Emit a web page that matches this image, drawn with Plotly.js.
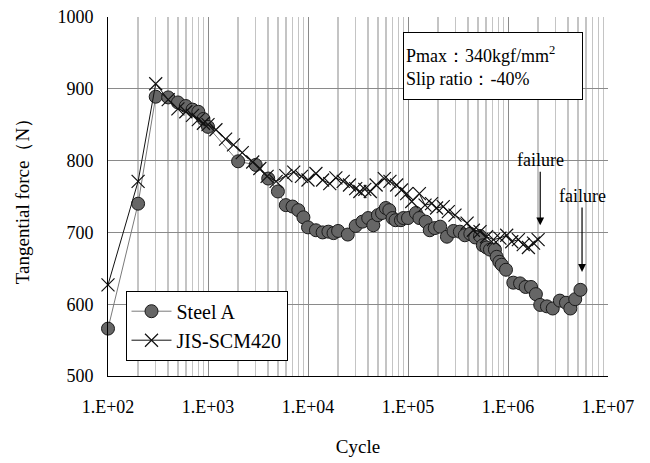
<!DOCTYPE html>
<html>
<head>
<meta charset="utf-8">
<script src="https://cdn.plot.ly/plotly-3.0.1.min.js"></script>
<style>html,body{margin:0;padding:0;background:#fff;}#chart{width:650px;height:463px;}</style>
</head>
<body>
<div id="chart"></div>
<script>
// Steel A
const steelX = [100,200,300,400,500,600,700,800,900,1000,2000,3000,4000,5000,6000,7000,8000,9000,10000,12000,14000,16000,18000,20000,25000,30000,35000,40000,45000,50000,55000,60000,65000,70000,75000,85000,90000,100000,120000,130000,150000,165000,185000,210000,245000,285000,330000,370000,420000,470000,525000,560000,610000,660000,740000,770000,820000,865000,955000,1130000,1320000,1500000,1700000,1900000,2100000,2450000,2800000,3300000,3800000,4200000,4700000,5300000];
const steelY = [566,740,889,888,881,876,871,868,858,847,799,794,775,757,738,736,731,721,707,703,700,701,699,702,697,709,715,720,710,724,727,734,731,720,717,717,720,720,727,720,715,703,706,708,694,702,701,696,698,693,695,682,679,676,676,666,659,655,648,630,629,624,624,614,599,597,594,605,602,594,607,620];
// JIS-SCM420
const scmX = [100,200,300,400,500,600,700,800,900,1000,1200,1500,1800,2200,2800,3300,3900,4800,6000,7200,8600,10000,12000,14000,16500,19000,22500,26000,30000,33000,37000,42000,48000,58000,66000,77000,86000,97000,109000,130000,148000,172000,193000,225000,253000,295000,390000,450000,525000,610000,715000,830000,970000,1090000,1270000,1420000,1600000,1800000,2000000];
const scmY = [627,771,907,885,872,868,863,857,852,850,843,830,822,811,798,789,778,771,779,784,778,773,782,773,768,776,771,766,761,757,760,757,766,775,771,766,759,754,743,754,738,740,734,736,729,724,713,703,701,694,690,692,696,687,690,683,679,685,690];

const seriesNames = ['Steel A', 'JIS-SCM420'];
const xTickVals = [1e2,1e3,1e4,1e5,1e6,1e7];
const xTickText = ['1.E+02','1.E+03','1.E+04','1.E+05','1.E+06','1.E+07'];
const yTickVals = [500,600,700,800,900,1000];
const failureX = [2100000, 5500000];
const failureY = [710, 645];
const failureAy = [-65, -76];

const minorVals = [];
for (let d = 2; d < 7; d++) for (let k = 2; k <= 9; k++) minorVals.push(k * Math.pow(10, d));

const FONT = "'Liberation Serif', 'Times New Roman', serif";

const traces = [
  {x: steelX, y: steelY, name: seriesNames[0], type: 'scatter', mode: 'lines+markers', cliponaxis: false,
   line: {color: '#7a7a7a', width: 1},
   marker: {symbol: 'circle', size: 13, color: '#666666', line: {color: '#1a1a1a', width: 1}}},
  {x: scmX, y: scmY, name: seriesNames[1], type: 'scatter', mode: 'lines+markers', cliponaxis: false,
   line: {color: '#111111', width: 1},
   marker: {symbol: 'x-thin', size: 13, color: '#111111', line: {color: '#111111', width: 1.2}}}
];

const annotations = [
  {xref: 'paper', yref: 'paper', x: 0.59, y: 0.958, xanchor: 'left', yanchor: 'top',
   text: 'Pmax：340kgf/mm<sup>2</sup><br>Slip ratio：-40%', showarrow: false, align: 'left',
   width: 174, height: 62, valign: 'middle',
   bordercolor: '#000', borderwidth: 1, borderpad: 2, bgcolor: '#fff',
   font: {family: FONT, size: 18, color: '#000'}}
];
for (let i = 0; i < failureX.length; i++) {
  annotations.push({x: Math.log10(failureX[i]), y: failureY[i], xref: 'x', yref: 'y',
    text: 'failure', showarrow: true, arrowhead: 2, arrowsize: 1.3, arrowwidth: 1.2,
    arrowcolor: '#000', ax: 0, ay: failureAy[i], standoff: 0,
    font: {family: FONT, size: 18, color: '#000'}});
}

const layout = {
  width: 650, height: 463,
  margin: {l: 108, r: 42, t: 17, b: 87},
  paper_bgcolor: '#fff', plot_bgcolor: '#fff',
  font: {family: FONT, size: 18, color: '#000'},
  showlegend: true,
  legend: {x: 0.035, y: 0.2376, xanchor: 'left', yanchor: 'top', bgcolor: '#fff',
           bordercolor: '#000', borderwidth: 1, font: {family: FONT, size: 20, color: '#000'},
           tracegroupgap: 0, itemwidth: 40},
  xaxis: {type: 'log', range: [2, 7], tickmode: 'array', tickvals: xTickVals, ticktext: xTickText,
          showgrid: true, gridcolor: '#8a8a8a', gridwidth: 1,
          minor: {tickmode: 'array', tickvals: minorVals, showgrid: true, gridcolor: '#c4c4c4', gridwidth: 1.5, ticks: ''},
          showline: true, linecolor: '#000', linewidth: 1, mirror: false, ticks: '', ticklabelstandoff: 14,
          zeroline: false, tickfont: {family: FONT, size: 18},
          title: {text: 'Cycle', standoff: 24, font: {family: FONT, size: 19}}},
  yaxis: {range: [500, 1000], tickmode: 'array', tickvals: yTickVals,
          showgrid: true, gridcolor: '#8a8a8a', gridwidth: 1,
          showline: true, linecolor: '#000', linewidth: 1, ticks: '', ticklabelstandoff: 10,
          zeroline: false, tickfont: {family: FONT, size: 18},
          title: {text: 'Tangential force（N）', standoff: 22, font: {family: FONT, size: 19}}},
  annotations: annotations
};

Plotly.newPlot('chart', traces, layout, {displayModeBar: false, staticPlot: true});
</script>
</body>
</html>
